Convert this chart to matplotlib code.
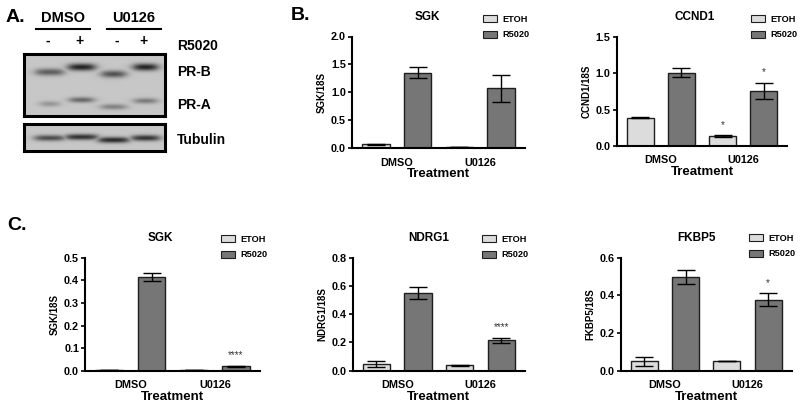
import numpy as np
import matplotlib
matplotlib.use('Agg')
import matplotlib.pyplot as plt
from matplotlib.patches import Patch

plt.rcParams['font.family'] = ['Liberation Sans', 'DejaVu Sans']
plt.rcParams['font.weight'] = 'bold'
plt.rcParams['axes.labelweight'] = 'bold'
plt.rcParams['axes.titleweight'] = 'bold'

# ---------------- data ----------------
groups = ['DMSO', 'U0126']
series = ['ETOH', 'R5020']

b_sgk_etoh = [0.065, 0.018]
b_sgk_etoh_err = [0.005, 0.003]
b_sgk_r5020 = [1.35, 1.07]
b_sgk_r5020_err = [0.095, 0.245]

b_ccnd1_etoh = [0.39, 0.135]
b_ccnd1_etoh_err = [0.012, 0.008]
b_ccnd1_r5020 = [1.01, 0.755]
b_ccnd1_r5020_err = [0.06, 0.115]
b_ccnd1_stars_etoh = ['', '*']
b_ccnd1_stars_r5020 = ['', '*']

c_sgk_etoh = [0.003, 0.002]
c_sgk_etoh_err = [0.001, 0.0005]
c_sgk_r5020 = [0.415, 0.019]
c_sgk_r5020_err = [0.018, 0.004]
c_sgk_stars_r5020 = ['', '****']

c_ndrg1_etoh = [0.05, 0.038]
c_ndrg1_etoh_err = [0.022, 0.002]
c_ndrg1_r5020 = [0.552, 0.215]
c_ndrg1_r5020_err = [0.042, 0.02]
c_ndrg1_stars_r5020 = ['', '****']

c_fkbp5_etoh = [0.05, 0.051]
c_fkbp5_etoh_err = [0.024, 0.002]
c_fkbp5_r5020 = [0.497, 0.376]
c_fkbp5_r5020_err = [0.036, 0.034]
c_fkbp5_stars_r5020 = ['', '*']

# western blot band intensities (lanes: DMSO-, DMSO+, U0126-, U0126+)
blot_lanes = ['-', '+', '-', '+']
prb_intensity = [0.6, 0.95, 0.68, 0.95]
pra_intensity = [0.3, 0.55, 0.4, 0.45]
tub_intensity = [0.7, 0.85, 0.9, 0.85]

# ---------------- style ----------------
W, H = 800, 405
fig = plt.figure(figsize=(8, 4.05), dpi=100)
C_ETOH = '#dcdcdc'
C_R5020 = '#767676'
EDGE = '#1e1e1e'


def rect(l, t, r, b):
    return [l / W, 1 - b / H, (r - l) / W, (b - t) / H]


def ftext(x, y, s, **kw):
    fig.text(x / W, 1 - y / H, s, **kw)


def bar_panel(box, title, title_xy, ylabel, ymax, yticks, etoh, etoh_err, r5020, r5020_err,
              legend_xy, stars_etoh=None, stars_r5020=None):
    ax = fig.add_axes(rect(*box))
    n = len(groups)
    x_e = np.arange(n) * 2
    x_r = np.arange(n) * 2 + 1
    w = 0.66
    ax.bar(x_e, etoh, width=w, color=C_ETOH, edgecolor=EDGE, linewidth=1.0, zorder=2)
    ax.bar(x_r, r5020, width=w, color=C_R5020, edgecolor=EDGE, linewidth=1.0, zorder=2)
    ax.errorbar(x_e, etoh, yerr=etoh_err, fmt='none', ecolor='black', elinewidth=1.0,
                capsize=6.5, capthick=1.0, zorder=3)
    ax.errorbar(x_r, r5020, yerr=r5020_err, fmt='none', ecolor='black', elinewidth=1.0,
                capsize=6.5, capthick=1.0, zorder=3)
    for xs, vals, errs, stars in ((x_e, etoh, etoh_err, stars_etoh), (x_r, r5020, r5020_err, stars_r5020)):
        if stars is None:
            continue
        for xi, v, e, s in zip(xs, vals, errs, stars):
            if s:
                ax.annotate(s, (xi, v + e), xytext=(0, 4), textcoords='offset points',
                            ha='center', va='bottom', fontsize=7, fontweight='normal', color='#333333')
    ax.set_xlim(-0.57, 3.57)
    ax.set_ylim(0, ymax)
    ax.set_yticks(yticks)
    ax.set_yticklabels([f'{t:.1f}' for t in yticks])
    ax.set_xticks([0.5, 2.5])
    ax.set_xticklabels(groups)
    ax.tick_params(axis='x', length=0, pad=7, labelsize=7.8)
    ax.tick_params(axis='y', length=3, width=1.2, pad=1.5, labelsize=7.8, direction='out')
    for s in ('top', 'right'):
        ax.spines[s].set_visible(False)
    for s in ('left', 'bottom'):
        ax.spines[s].set_linewidth(1.5)
    ax.set_xlabel('Treatment', fontsize=9.5, labelpad=0.5)
    ax.set_ylabel(ylabel, fontsize=7, labelpad=3)
    ftext(title_xy[0], title_xy[1], title, ha='center', va='center', fontsize=8.5, fontweight='bold')
    handles = [Patch(facecolor=C_ETOH, edgecolor=EDGE, linewidth=0.8),
               Patch(facecolor=C_R5020, edgecolor=EDGE, linewidth=0.8)]
    ax.legend(handles, series, loc='upper left',
              bbox_to_anchor=(legend_xy[0] / W, 1 - legend_xy[1] / H),
              bbox_transform=fig.transFigure, frameon=False,
              handlelength=1.5, handleheight=0.8, handletextpad=0.6, labelspacing=0.7,
              borderpad=0, borderaxespad=0, prop={'size': 6.6, 'weight': 'bold'})
    return ax


# Panel B
bar_panel((352, 36.5, 525, 148), 'SGK', (427, 17), 'SGK/18S', 2.0, [0.0, 0.5, 1.0, 1.5, 2.0],
          b_sgk_etoh, b_sgk_etoh_err, b_sgk_r5020, b_sgk_r5020_err, (483, 15))
bar_panel((617, 37.3, 787, 145.7), 'CCND1', (695, 17), 'CCND1/18S', 1.5, [0.0, 0.5, 1.0, 1.5],
          b_ccnd1_etoh, b_ccnd1_etoh_err, b_ccnd1_r5020, b_ccnd1_r5020_err, (751, 15),
          b_ccnd1_stars_etoh, b_ccnd1_stars_r5020)

# Panel C
bar_panel((85.3, 257.7, 260, 370.7), 'SGK', (160, 238), 'SGK/18S', 0.5, [0.0, 0.1, 0.2, 0.3, 0.4, 0.5],
          c_sgk_etoh, c_sgk_etoh_err, c_sgk_r5020, c_sgk_r5020_err, (221, 235),
          None, c_sgk_stars_r5020)
bar_panel((352.7, 257.7, 525, 370.7), 'NDRG1', (429, 238), 'NDRG1/18S', 0.8, [0.0, 0.2, 0.4, 0.6, 0.8],
          c_ndrg1_etoh, c_ndrg1_etoh_err, c_ndrg1_r5020, c_ndrg1_r5020_err, (482, 235),
          None, c_ndrg1_stars_r5020)
bar_panel((620.7, 257.7, 791.7, 370.7), 'FKBP5', (696, 238), 'FKBP5/18S', 0.6, [0.0, 0.2, 0.4, 0.6],
          c_fkbp5_etoh, c_fkbp5_etoh_err, c_fkbp5_r5020, c_fkbp5_r5020_err, (749, 234),
          None, c_fkbp5_stars_r5020)

# Panel A: western blot
lane_x = np.arange(len(blot_lanes))
BG = 0.78


def blot(box, bands, ylim):
    ax = fig.add_axes(rect(*box))
    xs = np.linspace(-0.8, 3.6, 300)
    ys = np.linspace(ylim[0], ylim[1], 150)
    X, Y = np.meshgrid(xs, ys)
    dark = np.zeros_like(X)
    for intens, yc, half_w, thick in bands:
        for i, (li, yy) in enumerate(zip(intens, yc)):
            prof_x = 1 / (1 + np.exp((np.abs(X - lane_x[i]) - half_w[i]) / 0.09))
            prof_y = np.exp(-((Y - yy) / thick) ** 2)
            dark = np.maximum(dark, li * prof_x * prof_y)
    img = BG - (BG - 0.08) * dark
    ax.imshow(img, cmap='gray', vmin=0, vmax=1, extent=(-0.8, 3.6, ylim[1], ylim[0]),
              aspect='auto', interpolation='bilinear')
    ax.set_xlim(-0.8, 3.6)
    ax.set_ylim(ylim[1], ylim[0])
    ax.set_xticks([])
    ax.set_yticks([])
    for s in ax.spines.values():
        s.set_linewidth(2.2)
        s.set_color('black')
    return ax


# y units: pixels within the blot boxes
blot((24, 54, 165, 116), [
    (prb_intensity, [72 - 54, 67 - 54, 74 - 54, 67 - 54], [0.42, 0.4, 0.36, 0.36], 3.6),
    (pra_intensity, [104 - 54, 100 - 54, 107 - 54, 101 - 54], [0.28, 0.36, 0.38, 0.34], 2.8),
], (0, 62))
blot((24, 124, 165, 151), [
    (tub_intensity, [138 - 124, 137 - 124, 140 - 124, 138 - 124], [0.45, 0.48, 0.46, 0.42], 3.0),
], (0, 27))

# blot labels
ftext(6, 17, 'A.', ha='left', va='center', fontsize=14, fontweight='bold')
ftext(291, 16, 'B.', ha='left', va='center', fontsize=14, fontweight='bold')
ftext(7, 225, 'C.', ha='left', va='center', fontsize=14, fontweight='bold')

ftext(63, 18, 'DMSO', ha='center', va='center', fontsize=10.5, fontweight='bold')
ftext(134, 18, 'U0126', ha='center', va='center', fontsize=10.5, fontweight='bold')
for x0, x1 in ((36, 90), (107, 161)):
    fig.add_artist(plt.Line2D([x0 / W, x1 / W], [1 - 29 / H, 1 - 29 / H], color='black', lw=1.5))
for lx, lab in zip([48, 80, 117, 144], blot_lanes):
    ftext(lx, 41, lab, ha='center', va='center', fontsize=10, fontweight='bold')
ftext(177, 46, 'R5020', ha='left', va='center', fontsize=10, fontweight='bold')
ftext(177, 72, 'PR-B', ha='left', va='center', fontsize=10, fontweight='bold')
ftext(177, 105, 'PR-A', ha='left', va='center', fontsize=10, fontweight='bold')
ftext(177, 140, 'Tubulin', ha='left', va='center', fontsize=10, fontweight='bold')

fig.savefig('out.png', dpi=100)
